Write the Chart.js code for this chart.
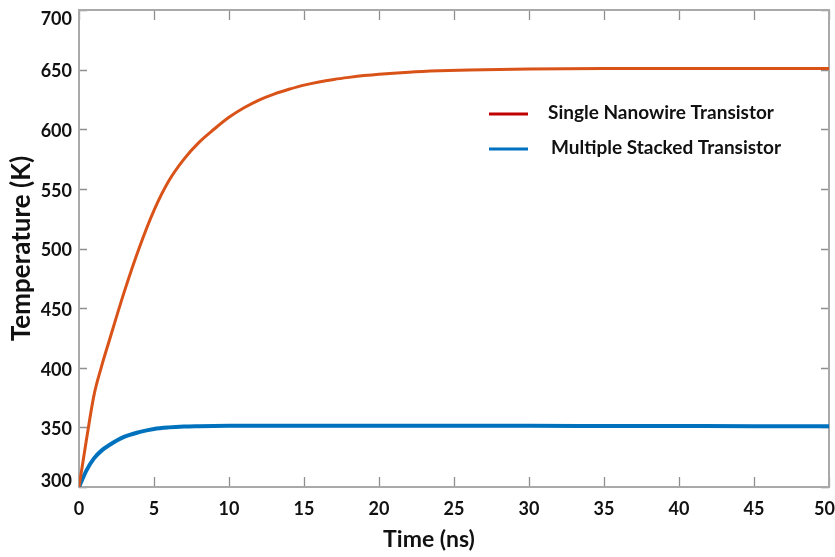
<!DOCTYPE html>
<html>
<head>
<meta charset="utf-8">
<script src="https://cdn.jsdelivr.net/npm/chart.js@4.4.1/dist/chart.umd.min.js"></script>
<style>
  html, body { margin: 0; padding: 0; background: #fff; }
  #wrap { width: 835px; height: 557px; }
</style>
</head>
<body>
<div id="wrap"><canvas id="tempChart" width="835" height="557"></canvas></div>
<script>
// values
const timeNs = [0, 0.5, 1, 1.5, 2, 3, 4, 5, 6, 7, 8, 9, 10, 11, 12, 13, 14, 15, 16, 17, 18, 19, 20, 22, 24, 26, 28, 30, 35, 40, 45, 50];
const singleNanowire = [300, 340, 377, 401, 422, 463, 500, 532, 557, 575, 589, 600, 610, 618, 624.5, 629.5, 633.5, 637, 639.7, 641.8, 643.5, 645, 646.2, 647.9, 649, 649.7, 650.2, 650.5, 650.9, 651, 651, 651];
const multipleStacked = [300, 314, 324, 330.5, 335, 342, 346, 348.7, 350, 350.7, 351, 351.2, 351.3, 351.3, 351.3, 351.3, 351.3, 351.3, 351.3, 351.3, 351.3, 351.3, 351.3, 351.3, 351.3, 351.3, 351.3, 351.3, 351.2, 351.1, 351, 351];
const seriesNames = ['Single Nanowire Transistor', 'Multiple Stacked Transistor'];
const xTicks = [0, 5, 10, 15, 20, 25, 30, 35, 40, 45, 50];
const yTicks = [300, 350, 400, 450, 500, 550, 600, 650, 700];
const xTitle = 'Time (ns)';
const yTitle = 'Temperature (K)';

const lineColors = ['#D95319', '#0072BD'];
const legendColors = ['#C00000', '#0070C0'];
const FONT = 'Lato, "Open Sans", sans-serif';

const toPoints = (vals) => timeNs.map((t, i) => ({ x: t, y: vals[i] }));

// inward tick marks on all four sides plus the grey box
const frameAndTicks = {
  id: 'frameAndTicks',
  beforeDatasetsDraw(chart) {
    const { ctx, chartArea: a, scales: { x, y } } = chart;
    ctx.save();
    ctx.strokeStyle = '#8f8f8f';
    ctx.lineWidth = 1.3;
    ctx.beginPath();
    xTicks.forEach((v) => {
      const px = Math.round(x.getPixelForValue(v)) + 0.5;
      ctx.moveTo(px, a.bottom); ctx.lineTo(px, a.bottom - 10);
      ctx.moveTo(px, a.top); ctx.lineTo(px, a.top + 10);
    });
    yTicks.forEach((v) => {
      const py = Math.round(y.getPixelForValue(v)) + 0.5;
      ctx.moveTo(a.left, py); ctx.lineTo(a.left + 8, py);
      ctx.moveTo(a.right, py); ctx.lineTo(a.right - 8, py);
    });
    ctx.stroke();
    ctx.strokeStyle = '#a9a9a9';
    ctx.lineWidth = 2;
    ctx.strokeRect(a.left, a.top, a.right - a.left, a.bottom - a.top);
    ctx.restore();
  },
  afterDraw(chart) {
    const { ctx } = chart;
    ctx.save();
    // legend, placed inside the plot like the original
    const rows = [{ ly: 114, tx: 548 }, { ly: 149, tx: 551 }];
    rows.forEach((r, i) => {
      ctx.strokeStyle = legendColors[i];
      ctx.lineWidth = 3;
      ctx.beginPath();
      ctx.moveTo(489, r.ly); ctx.lineTo(528, r.ly);
      ctx.stroke();
      ctx.fillStyle = '#111';
      ctx.font = 'bold 19px ' + FONT;
      ctx.textAlign = 'left';
      ctx.textBaseline = 'middle';
      ctx.fillText(seriesNames[i], r.tx, r.ly - 1);
    });
    // x axis title sits a bit left of the plot centre in the source
    ctx.font = 'bold 23px ' + FONT;
    ctx.textAlign = 'center';
    ctx.fillText(xTitle, 429, 539.5);
    ctx.restore();
  }
};

new Chart(document.getElementById('tempChart').getContext('2d'), {
  type: 'line',
  data: {
    datasets: [
      {
        label: seriesNames[0],
        data: toPoints(singleNanowire),
        borderColor: lineColors[0],
        borderWidth: 3,
      },
      {
        label: seriesNames[1],
        data: toPoints(multipleStacked),
        borderColor: lineColors[1],
        borderWidth: 4,
      },
    ],
  },
  options: {
    responsive: false,
    animation: false,
    layout: { padding: { top: 10, right: 6, left: 0, bottom: 0 } },
    elements: {
      point: { radius: 0 },
      line: { cubicInterpolationMode: 'monotone', fill: false },
    },
    plugins: {
      legend: { display: false },
      tooltip: { enabled: false },
    },
    scales: {
      x: {
        type: 'linear',
        min: 0,
        max: 50,
        afterBuildTicks: (s) => { s.ticks = xTicks.map((v) => ({ value: v })); },
        afterFit: (s) => { s.height = 70; s.paddingLeft = 0; s.paddingRight = 0; },
        grid: { display: false, drawTicks: false },
        border: { display: false },
        ticks: {
          padding: 11,
          maxRotation: 0,
          color: '#111',
          font: { family: FONT, weight: 'bold', size: 18 },
          callback: (v) => (v === 50 ? '50\u2002' : String(v)),
        },
        title: { display: false },
      },
      y: {
        min: 300,
        max: 700,
        afterBuildTicks: (s) => { s.ticks = yTicks.map((v) => ({ value: v })); },
        afterFit: (s) => { s.width = 79; s.paddingTop = 0; s.paddingBottom = 0; },
        grid: { display: false, drawTicks: false },
        border: { display: false },
        ticks: {
          padding: 7,
          labelOffset: 2,
          color: '#111',
          font: { family: FONT, weight: 'bold', size: 18, lineHeight: '15px' },
          callback: (v) => (v === 700 ? ['', '700'] : v === 300 ? ['300', ''] : String(v)),
        },
        title: {
          display: true,
          text: yTitle,
          color: '#111',
          font: { family: FONT, weight: 'bold', size: 26 },
          padding: { top: 6, bottom: 0 },
        },
      },
    },
  },
  plugins: [frameAndTicks],
});
</script>
</body>
</html>
